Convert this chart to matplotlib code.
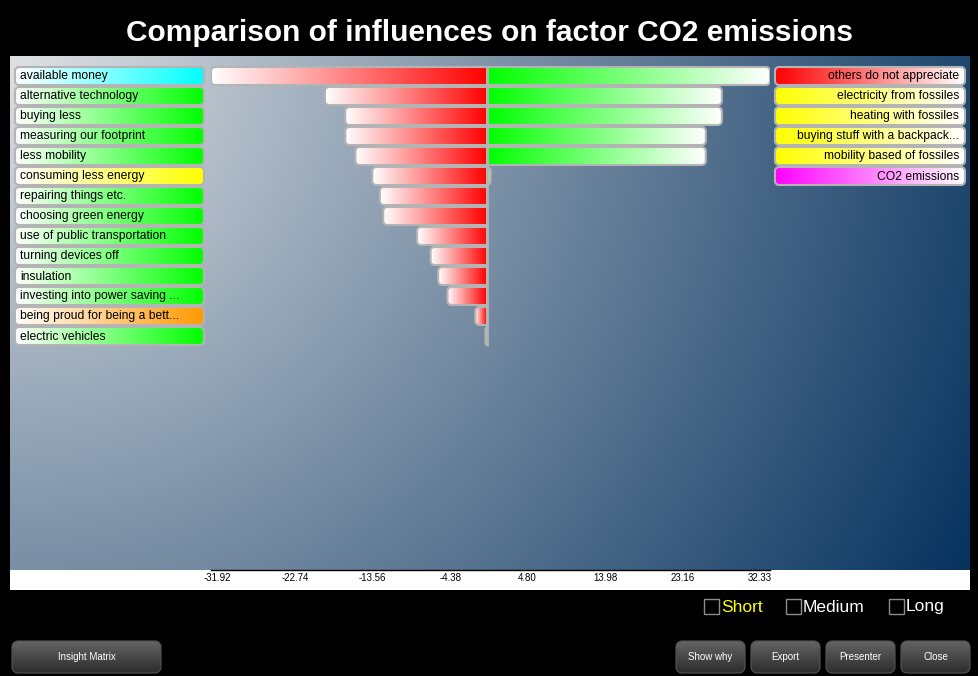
import numpy as np
import matplotlib
matplotlib.use("Agg")
import matplotlib.pyplot as plt
from matplotlib.path import Path
from matplotlib.patches import PathPatch, Rectangle
from matplotlib.colors import to_rgb

plt.rcParams['font.family'] = ['Liberation Sans', 'DejaVu Sans']

# influences (left side) - strength drawn to the left of zero
left_labels = ["available money", "alternative technology", "buying less",
               "measuring our footprint", "less mobility", "consuming less energy",
               "repairing things etc.", "choosing green energy",
               "use of public transportation", "turning devices off", "insulation",
               "investing into power saving ...", "being proud for being a bett...",
               "electric vehicles"]
left_colors = ["#00ffff", "#00ff00", "#00ff00", "#00ff00", "#00ff00", "#ffff00",
               "#00ff00", "#00ff00", "#00ff00", "#00ff00", "#00ff00", "#00ff00",
               "#ff9900", "#00ff00"]
left_values = [32.7, 19.2, 16.8, 16.8, 15.6, 13.6, 12.7, 12.3, 8.3, 6.7, 5.8, 4.7, 1.4, 0.2]

# influenced factors (right side)
right_labels = ["others do not appreciate", "electricity from fossiles",
                "heating with fossiles", "buying stuff with a backpack...",
                "mobility based of fossiles", "CO2 emissions"]
right_colors = ["#ff0000", "#ffff00", "#ffff00", "#ffff00", "#ffff00", "#ff00ff"]
right_values = [33.5, 27.8, 27.8, 25.9, 25.9, 0.4]

tick_values = [-31.92, -22.74, -13.56, -4.38, 4.80, 13.98, 23.16, 32.33]
periods = ["Short", "Medium", "Long"]
period_colors = ["#ffff00", "white", "white"]
buttons = ["Insight Matrix", "Show why", "Export", "Presenter", "Close"]

title = "Comparison of influences on factor CO2 emissions"

W, H = 979, 676
fig = plt.figure(figsize=(W / 100, H / 100), dpi=100, facecolor="black")

# pixel based axes for the frame, labels and buttons
ui = fig.add_axes([0, 0, 1, 1])
ui.set_xlim(0, W)
ui.set_ylim(H, 0)
ui.axis("off")
ui.set_zorder(0)


def rounded_path(x0, x1, y0, y1, rx, ry, left=True, right=True):
    # rectangle with optional rounded corners on the left / right side
    w = x1 - x0
    rx = min(rx, w if not (left and right) else w / 2)
    ry = min(ry, (y1 - y0) / 2)
    pts = []
    if right:
        pts += [(x1 - rx + rx * np.cos(a), y0 + ry + ry * np.sin(a)) for a in np.linspace(-np.pi / 2, 0, 8)]
        pts += [(x1 - rx + rx * np.cos(a), y1 - ry + ry * np.sin(a)) for a in np.linspace(0, np.pi / 2, 8)]
    else:
        pts += [(x1, y0), (x1, y1)]
    if left:
        pts += [(x0 + rx + rx * np.cos(a), y1 - ry + ry * np.sin(a)) for a in np.linspace(np.pi / 2, np.pi, 8)]
        pts += [(x0 + rx + rx * np.cos(a), y0 + ry + ry * np.sin(a)) for a in np.linspace(np.pi, 1.5 * np.pi, 8)]
    else:
        pts += [(x0, y1), (x0, y0)]
    pts.append(pts[0])
    codes = [Path.MOVETO] + [Path.LINETO] * (len(pts) - 2) + [Path.CLOSEPOLY]
    return Path(pts, codes)


def gradient_box(axis, x0, x1, y0, y1, c_a, c_b, rx, ry, left=True, right=True,
                 vertical=False, edge="#b4b4b4", lw=1.5, z=2):
    path = rounded_path(x0, x1, y0, y1, rx, ry, left, right)
    patch = PathPatch(path, facecolor="none", edgecolor=edge, lw=lw, zorder=z + 0.1)
    axis.add_patch(patch)
    t = np.linspace(0, 1, 256)
    ca, cb = np.array(to_rgb(c_a)), np.array(to_rgb(c_b))
    grad = ca[None, :] * (1 - t[:, None]) + cb[None, :] * t[:, None]
    if vertical:
        img = grad[:, None, :]
        ext = (x0, x1, y1, y0)
    else:
        img = grad[None, :, :]
        ext = (x0, x1, y0, y1)
    im = axis.imshow(img, extent=ext, aspect="auto", interpolation="bilinear", zorder=z)
    im.set_clip_path(patch)
    return patch


# background of the chart area: radial gradient from the top left corner
bx0, bx1, by0, by1 = 10, 970, 56, 570
gx, gy = np.meshgrid(np.linspace(0, 1, 480), np.linspace(0, 1, 257))
r = np.sqrt(((bx1 - bx0) * gx) ** 2 + ((by1 - by0) * gy) ** 2) / np.hypot(bx1 - bx0, by1 - by0)
c_in, c_out = np.array(to_rgb("#dfe1e4")), np.array(to_rgb("#06325e"))
bg = c_in[None, None, :] * (1 - r[..., None]) + c_out[None, None, :] * r[..., None]
ui.imshow(bg, extent=(bx0, bx1, by1, by0), aspect="auto", interpolation="bilinear", zorder=0)
ui.add_patch(Rectangle((bx0, by1), bx1 - bx0, 20, facecolor="white", edgecolor="none", zorder=0.5))

ui.text(W / 2, 33, title, color="white", fontsize=21.5, fontweight="bold", ha="center", va="center")

# bar axes
ax = fig.add_axes([211 / W, 1 - 570 / H, 559 / W, 514 / H])
ax.set_zorder(1)
ax.set_facecolor("none")
xmin, xmax = -max(left_values), max(right_values)
ax.set_xlim(xmin, xmax)
ax.set_ylim(24.7, -1.0)
sx = 559 / (xmax - xmin)
sy = 514 / 25.7
rx, ry = 4 / sx, 4 / sy

for i, v in enumerate(left_values):
    gradient_box(ax, -v, 0, i - 0.45, i + 0.45, "white", "#ff0000", rx, ry, left=True, right=False)
for i, v in enumerate(right_values):
    gradient_box(ax, 0, v, i - 0.45, i + 0.45, "#00ff00", "white", rx, ry, left=False, right=True)
ax.plot([0, 0], [-0.5, len(left_values) - 0.5], color="#b4b4b4", lw=2, zorder=3, solid_capstyle="butt")

ax.set_xticks(tick_values, labels=[f"{v:.2f}" for v in tick_values])
ax.set_yticks([])
ax.tick_params(axis="x", length=0, labelsize=7, pad=2.5, colors="black")
for s in ["top", "left", "right"]:
    ax.spines[s].set_visible(False)
ax.spines["bottom"].set_color("black")
ax.spines["bottom"].set_linewidth(1)


def row_px(i):
    return H - ax.transData.transform((0, i))[1]


# category boxes left and right
for i, (lab, col) in enumerate(zip(left_labels, left_colors)):
    yc = row_px(i)
    gradient_box(ui, 15, 204, yc - 9, yc + 9, "white", col, 4, 4, z=2)
    ui.text(20, yc + 0.5, lab, fontsize=8.7, ha="left", va="center", color="black", zorder=3)
for i, (lab, col) in enumerate(zip(right_labels, right_colors)):
    yc = row_px(i)
    gradient_box(ui, 775, 965, yc - 9, yc + 9, col, "white", 4, 4, z=2)
    ui.text(959, yc + 0.5, lab, fontsize=8.7, ha="right", va="center", color="black", zorder=3)

# time frame check boxes
box_x = [704, 786, 889]
for bxp, lab, col in zip(box_x, periods, period_colors):
    ui.add_patch(Rectangle((bxp, 599), 15, 15, facecolor="none", edgecolor="#8c8c8c", lw=1, zorder=2))
    ui.text(bxp + 17, 607, lab, fontsize=12.5, color=col, ha="left", va="center", zorder=3)

# buttons
button_x = [(12, 161), (676, 745), (751, 820), (826, 895), (901, 970)]
for (x0, x1), lab in zip(button_x, buttons):
    gradient_box(ui, x0, x1, 641, 673, "#646464", "#2c2c2c", 6, 6, vertical=True,
                 edge="#555555", lw=0.8, z=2)
    ui.text((x0 + x1) / 2, 657, lab, fontsize=7, color="white", ha="center", va="center", zorder=3)

fig.savefig("out.png", dpi=100, facecolor="black")
